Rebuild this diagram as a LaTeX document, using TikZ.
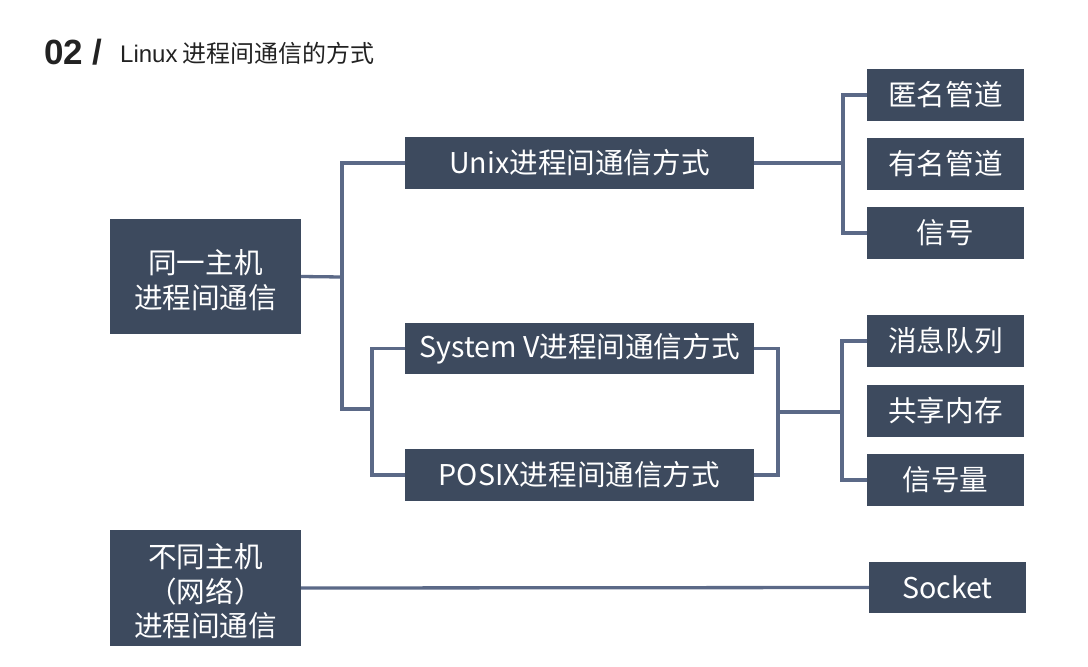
\documentclass[tikz,border=0pt]{standalone}
\usepackage{fontspec}
\setmainfont{Noto Sans CJK SC}
\newfontfamily\arialf{Liberation Sans}
\definecolor{boxc}{HTML}{3D4A5E}
\definecolor{linec}{HTML}{5B6987}
\definecolor{titlec}{HTML}{222222}
\newcommand{\tstrut}{\rule{0pt}{31pt}}
\begin{document}
\begin{tikzpicture}[x=1pt,y=-1pt,
  boxn/.style={draw=none,fill=boxc,text=white,inner sep=0pt,align=center,
    font=\fontsize{28.6}{34.5}\selectfont},
  conn/.style={draw=linec,line width=3.3pt},
  leftbox/.style={boxn,minimum width=191pt,minimum height=115pt},
  midbox/.style={boxn,minimum width=349pt,minimum height=52pt},
  rightbox/.style={boxn,minimum width=157pt,minimum height=52pt}]
\useasboundingbox (0,0) rectangle (1088,667);
% title
\node[anchor=base west,inner sep=0pt,text=titlec,font=\arialf\bfseries\fontsize{35}{40}\selectfont] (t1) at (44,64) {02 /};
\node[anchor=base west,inner sep=0pt,text=titlec,font=\fontsize{24}{28}\selectfont] (t2) at (120,62) {{\arialf Linux} 进程间通信的方式};
% boxes
\node[leftbox] (L1) at (205.5,276.5) {\tstrut 同一主机\\进程间通信};
\node[leftbox,minimum height=116pt] (L2) at (205.5,588) {\tstrut 不同主机\\（网络）\\进程间通信};
\node[midbox] (U) at (579.5,163) {Unix进程间通信方式};
\node[midbox,minimum height=51pt] (SV) at (579.5,348.5) {System V进程间通信方式};
\node[midbox] (PX) at (579.5,475) {POSIX进程间通信方式};
\node[rightbox] (R1) at (945.5,95) {匿名管道};
\node[rightbox] (R2) at (945.5,164) {有名管道};
\node[rightbox] (R3) at (945.5,233) {信号};
\node[rightbox] (R4) at (945.5,341) {消息队列};
\node[rightbox] (R5) at (945.5,411) {共享内存};
\node[rightbox] (R6) at (945.5,480) {信号量};
\node[rightbox,minimum height=51pt] (S) at (947.5,587.5) {Socket};
% junctions
\coordinate (j1) at (342,277);
\coordinate (j2) at (372,409);
\coordinate (k1) at (843,163);
\coordinate (k2) at (778,412);
\coordinate (k3) at (842,412);
% connectors
\draw[conn] (L1.east) -- (j1);
\draw[conn] (U.west) -| (j1 |- j2) -- (j2);
\draw[conn] (SV.west) -| (j2) |- (PX.west);
\draw[conn] (U.east) -- (k1);
\draw[conn] (R1.west) -| (k1) |- (R3.west);
\draw[conn] (SV.east) -| (k2) |- (PX.east);
\draw[conn] (k2) -- (k3);
\draw[conn] (R4.west) -| (k3) |- (R6.west);
\draw[conn] (L2.east) -- (S.west);
\end{tikzpicture}
\end{document}
